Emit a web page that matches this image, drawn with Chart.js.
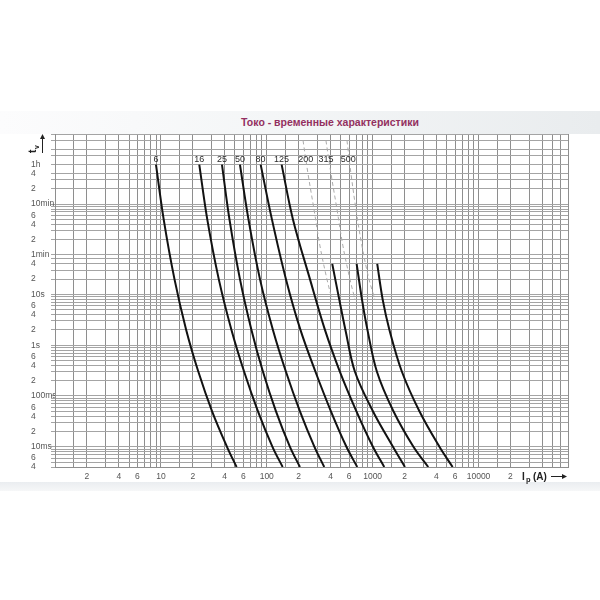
<!DOCTYPE html>
<html><head><meta charset="utf-8">
<script src="https://cdn.jsdelivr.net/npm/chart.js@4.4.1/dist/chart.umd.min.js"></script>
<style>
html,body{margin:0;padding:0;background:#fff;width:600px;height:600px;overflow:hidden;font-family:"Liberation Sans",Arial,sans-serif;}
#band{position:absolute;left:0;top:111px;width:600px;height:23px;background:linear-gradient(90deg,#fcfcfd 0%,#f4f6f7 45%,#e9ecee 100%);}
#band2{position:absolute;left:0;top:482px;width:600px;height:9px;background:linear-gradient(180deg,#eaedf0,#f6f7f8);}
#title{position:absolute;left:0;width:660px;top:116px;text-align:center;font-size:10.5px;font-weight:bold;color:#933060;white-space:nowrap;}
#wrap{position:absolute;left:0;top:0;width:600px;height:600px;}
</style></head><body>
<div id="band"></div><div id="band2"></div>
<div id="title">Токо - временные характеристики</div>
<div id="wrap"><canvas id="c" width="600" height="600"></canvas></div>
<script>
// ---- data (current I_p in A, time t_v in s) ----
const ratings = ['6','16','25','50','80','125','200','315','500'];
const labelCurrents = [9, 23, 37.8, 55.8, 87.5, 138, 233, 362, 588];

const timesFull  = [3600, 300, 20, 2, 0.3, 0.05, 0.01, 0.004];
const timesLower = [40, 8, 2, 0.3, 0.05, 0.01, 0.004];
const timesUpper = [10800, 2400, 480, 90, 20, 8];

const curr6   = [8.99, 10.63, 13.44, 17.34, 22.6, 30.45, 42.1, 51.9];
const curr16  = [23.05, 27.43, 35.21, 46.42, 61.17, 82.6, 113.2, 141.3];
const curr25  = [37.76, 44.44, 55.83, 71.7, 92.1, 122.2, 165.6, 205.8];
const curr50  = [55.83, 67.18, 86.26, 114.4, 151.8, 205.8, 282.1, 349.1];
const curr80  = [87.6, 111.9, 151.8, 208.1, 288.4, 403.8, 565.6, 715.4];
const curr125 = [138.2, 176.8, 255.8, 354.5, 491.1, 703.1, 1006, 1287];

const curr200 = [415.5, 483.6, 553.5, 680.7, 1006, 1555, 2018];
const curr315 = [706.2, 792.5, 893.3, 1098, 1572, 2428, 3350];
const curr500 = [1105, 1243, 1441, 1891, 2767, 4274, 5693];

const dash200 = [220, 245, 279, 318, 370, 413];
const dash315 = [362, 404, 460, 524, 610, 681];
const dash500 = [572, 624, 695, 793, 923, 1051];

const xGrid = [1,1.5,2,3,4,5,6,7,8,9,10,15,20,30,40,50,60,70,80,90,100,150,200,300,400,500,600,700,800,900,
  1000,1500,2000,3000,4000,5000,6000,7000,8000,9000,10000,15000,20000,30000,40000,50000,60000,70000];
const xLabelValues = [2,4,6,10,20,40,60,100,200,400,600,1000,2000,4000,6000,10000,20000];
const xLabelTexts  = ['2','4','6','10','2','4','6','100','2','4','6','1000','2','4','6','10000','2'];

const yGrid = [0.004,0.005,0.006,0.007,0.008,0.009,0.01,0.02,0.03,0.04,0.05,0.06,0.07,0.08,0.09,
  0.1,0.2,0.3,0.4,0.5,0.6,0.7,0.8,0.9,1,2,3,4,5,6,7,8,9,10,20,30,40,50,60,
  120,180,240,300,360,420,480,540,600,1200,1800,2400,3600,5400,7200,10800,14400];
const yLabelValues = [3600,2400,1200,600,360,240,120,60,40,20,10,6,4,2,1,0.6,0.4,0.2,0.1,0.06,0.04,0.02,0.01,0.006,0.004];
const yLabelTexts  = ['1h','4','2','10min','6','4','2','1min','4','2','10s','6','4','2','1s','6','4','2','100ms','6','4','2','10ms','6','4'];

// ---- build ----
const pts = (xs, ts) => xs.map((v, i) => ({x: v, y: ts[i]}));
const solid = (xs, ts) => ({data: pts(xs, ts), borderColor: '#121212', borderWidth: 2, pointRadius: 0,
  fill: false, tension: 0.35});
const dashed = (xs, ts) => ({data: pts(xs, ts), borderColor: '#ababab', borderWidth: 1, borderDash: [4, 3],
  pointRadius: 0, fill: false, tension: 0.35});

const datasets = [
  solid(curr6, timesFull), solid(curr16, timesFull), solid(curr25, timesFull), solid(curr50, timesFull),
  solid(curr80, timesFull), solid(curr125, timesFull),
  dashed(dash200, timesUpper), dashed(dash315, timesUpper), dashed(dash500, timesUpper),
  solid(curr200, timesLower), solid(curr315, timesLower), solid(curr500, timesLower)
];

const FONT = '"Liberation Sans", Arial, sans-serif';
const decor = {
  id: 'decor',
  afterDatasetsDraw(chart) {
    const {ctx, scales: {x, y}} = chart;
    ctx.save();
    ctx.font = '9px ' + FONT;
    ctx.fillStyle = '#2a2a2a';
    ctx.textAlign = 'center';
    ctx.textBaseline = 'middle';
    const yl = y.getPixelForValue(3600) - 5;
    ratings.forEach((r, i) => ctx.fillText(r, x.getPixelForValue(labelCurrents[i]), yl));

    // y axis title t_v with arrow
    const ax = chart.chartArea.left - 13;
    ctx.strokeStyle = '#222'; ctx.fillStyle = '#222'; ctx.lineWidth = 1;
    ctx.beginPath(); ctx.moveTo(ax + 0.5, 153); ctx.lineTo(ax + 0.5, 138); ctx.stroke();
    ctx.beginPath(); ctx.moveTo(ax + 0.5, 134); ctx.lineTo(ax - 2, 139); ctx.lineTo(ax + 3, 139); ctx.closePath(); ctx.fill();
    ctx.save();
    ctx.translate(36, 153);
    ctx.rotate(-Math.PI / 2);
    ctx.textAlign = 'left'; ctx.textBaseline = 'alphabetic';
    ctx.font = 'bold 10px ' + FONT;
    ctx.fillText('t', 0, 0);
    ctx.font = 'bold 7px ' + FONT;
    ctx.fillText('v', 4, 3);
    ctx.restore();

    // x axis title I_p (A) with arrow
    ctx.textAlign = 'left'; ctx.textBaseline = 'alphabetic';
    ctx.font = 'bold 10px ' + FONT;
    ctx.fillText('I', 522, 480);
    ctx.font = 'bold 7.5px ' + FONT;
    ctx.fillText('p', 526, 482);
    ctx.font = 'bold 10px ' + FONT;
    ctx.fillText('(A)', 533, 480);
    ctx.beginPath(); ctx.moveTo(551, 476.5); ctx.lineTo(563, 476.5); ctx.stroke();
    ctx.beginPath(); ctx.moveTo(567, 476.5); ctx.lineTo(562, 474); ctx.lineTo(562, 479); ctx.closePath(); ctx.fill();
    ctx.restore();
  }
};

new Chart(document.getElementById('c'), {
  type: 'line',
  data: {datasets},
  options: {
    responsive: false,
    animation: false,
    devicePixelRatio: 1,
    layout: {padding: {left: 31, top: 134, right: 32, bottom: 0}},
    plugins: {legend: {display: false}, tooltip: {enabled: false}, title: {display: false}},
    scales: {
      x: {
        type: 'logarithmic', min: 1, max: 70000, position: 'bottom',
        afterBuildTicks: s => { s.ticks = xGrid.map(v => ({value: v})); },
        afterFit: s => { s.height = 133; s.paddingLeft = 0; s.paddingRight = 0; },
        grid: {color: '#8e8e8e', lineWidth: 1, drawTicks: false},
        border: {color: '#8e8e8e'},
        ticks: {
          autoSkip: false, maxRotation: 0, padding: 5, color: '#555',
          font: {size: 8.5, family: FONT},
          callback: v => { const k = xLabelValues.indexOf(v); return k >= 0 ? xLabelTexts[k] : ''; }
        }
      },
      y: {
        type: 'logarithmic', min: 0.004, max: 14400, position: 'left',
        afterBuildTicks: s => { s.ticks = yGrid.map(v => ({value: v})); },
        afterFit: s => { s.width = 24; },
        grid: {color: '#a4a4a4', lineWidth: 1, drawTicks: true, tickLength: 4},
        border: {color: '#8e8e8e'},
        ticks: {
          autoSkip: false, crossAlign: 'far', padding: 2, color: '#555',
          font: {size: 8.5, family: FONT},
          callback: v => { const k = yLabelValues.indexOf(v); return k >= 0 ? yLabelTexts[k] : ''; }
        }
      }
    }
  },
  plugins: [decor]
});
</script>
</body></html>
